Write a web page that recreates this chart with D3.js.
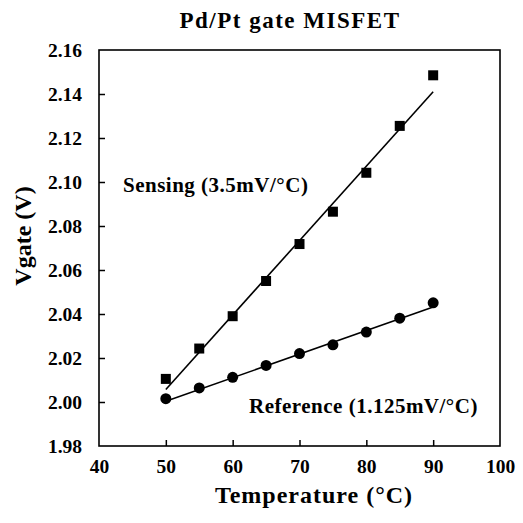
<!DOCTYPE html>
<meta charset="utf-8">
<style>
body { margin: 0; background: #fff; }
text { font-family: "Liberation Serif", "DejaVu Serif", serif; font-weight: bold; fill: #000; }
</style>
<svg width="523" height="523"></svg>
<script src="https://d3js.org/d3.v7.min.js"></script>
<script>

// data
var temps = [50, 55, 60, 65, 70, 75, 80, 85, 90];
var sensing = [2.0105, 2.0243, 2.039, 2.055, 2.0718, 2.0865, 2.1042, 2.1255, 2.1485];
var reference = [2.0015, 2.0064, 2.0112, 2.0166, 2.022, 2.026, 2.0318, 2.0381, 2.0451];
var sensingFit = [[50, 2.0057], [90, 2.141]];
var referenceFit = [[50, 2.0003], [90, 2.0432]];
var xTicks = [40, 50, 60, 70, 80, 90, 100];
var yTicks = [1.98, 2.00, 2.02, 2.04, 2.06, 2.08, 2.10, 2.12, 2.14, 2.16];

var plotL = 99, plotR = 500, plotT = 50, plotB = 446;

var svg = d3.select("svg");

var x = d3.scaleLinear().domain([40, 100]).range([plotL, plotR]);
var y = d3.scaleLinear().domain([1.98, 2.16]).range([plotB, plotT]);

// frame
svg.append("rect")
  .attr("x", plotL).attr("y", plotT)
  .attr("width", plotR - plotL).attr("height", plotB - plotT)
  .attr("fill", "none").attr("stroke", "#000").attr("stroke-width", 1.6);

// axes, inward ticks
var xAxis = svg.append("g")
  .attr("transform", "translate(0," + plotB + ")")
  .call(d3.axisBottom(x).tickValues(xTicks).tickSize(-6).tickPadding(13).tickFormat(d3.format("d")));
var yAxis = svg.append("g")
  .attr("transform", "translate(" + plotL + ",0)")
  .call(d3.axisLeft(y).tickValues(yTicks).tickSize(-6).tickPadding(17).tickFormat(d3.format(".2f")));

[xAxis, yAxis].forEach(function(a) {
  a.select(".domain").remove();
  a.selectAll(".tick line").attr("stroke", "#000").attr("stroke-width", 1.5);
  a.selectAll("text")
    .style("font-family", "Liberation Serif")
    .style("font-weight", "bold")
    .style("font-size", "19.5px");
});
xAxis.selectAll(".tick").filter(function(d) { return d == 40 || d == 100; }).select("line").remove();
yAxis.selectAll(".tick").filter(function(d) { return d == 1.98 || d == 2.16; }).select("line").remove();

// fit lines
var line = d3.line().x(function(d) { return x(d[0]); }).y(function(d) { return y(d[1]); });
[sensingFit, referenceFit].forEach(function(f) {
  svg.append("path").attr("d", line(f))
    .attr("fill", "none").attr("stroke", "#000").attr("stroke-width", 1.6);
});

// markers
svg.selectAll(".sq").data(temps).enter().append("rect")
  .attr("x", function(d) { return x(d) - 5; })
  .attr("y", function(d, i) { return y(sensing[i]) - 5; })
  .attr("width", 10).attr("height", 10)
  .attr("fill", "#000");

svg.selectAll(".ci").data(temps).enter().append("circle")
  .attr("cx", function(d) { return x(d); })
  .attr("cy", function(d, i) { return y(reference[i]); })
  .attr("r", 5.5)
  .attr("fill", "#000");

// labels
svg.append("text").attr("x", 290).attr("y", 28)
  .attr("text-anchor", "middle").style("font-size", "23px").style("letter-spacing", "1.5px")
  .text("Pd/Pt gate MISFET");

svg.append("text").attr("x", 314).attr("y", 503)
  .attr("text-anchor", "middle").style("font-size", "24px").style("letter-spacing", "1px")
  .text("Temperature (°C)");

svg.append("text")
  .attr("transform", "translate(31,236) rotate(-90)")
  .attr("text-anchor", "middle").style("font-size", "24px")
  .text("Vgate (V)");

svg.append("text").attr("x", 123).attr("y", 192)
  .style("font-size", "21px").style("letter-spacing", "0.5px")
  .text("Sensing (3.5mV/°C)");

svg.append("text").attr("x", 249).attr("y", 413)
  .style("font-size", "21px").style("letter-spacing", "0.5px")
  .text("Reference (1.125mV/°C)");

</script>
